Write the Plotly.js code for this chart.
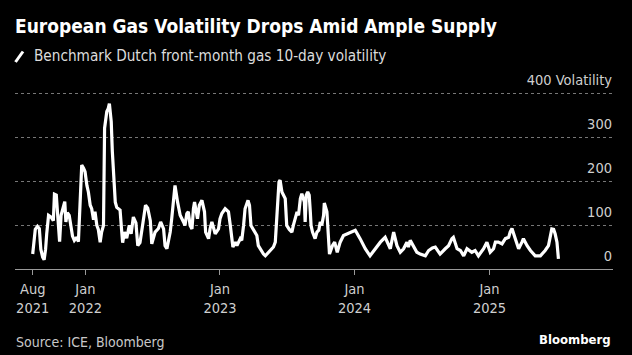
<!DOCTYPE html>
<html><head><meta charset="utf-8">
<script src="https://cdn.plot.ly/plotly-3.0.1.min.js"></script>
<style>html,body{margin:0;padding:0;background:#000;} #chart{width:632px;height:355px;}</style>
</head><body><div id="chart"></div>
<script>
const dates = [
"2021-08-11","2021-08-18","2021-08-24","2021-08-29","2021-09-02","2021-09-07","2021-09-11","2021-09-15","2021-09-18","2021-09-23",
"2021-09-30","2021-10-06","2021-10-09","2021-10-14","2021-10-18","2021-10-23","2021-10-27","2021-11-01","2021-11-06","2021-11-09",
"2021-11-13","2021-11-18","2021-11-22","2021-11-27","2021-12-02","2021-12-09","2021-12-13","2021-12-18","2021-12-22","2021-12-27",
"2021-12-31","2022-01-05","2022-01-09","2022-01-14","2022-01-18","2022-01-23","2022-01-27","2022-02-01","2022-02-05","2022-02-10",
"2022-02-14","2022-02-19","2022-02-22","2022-02-28","2022-03-04","2022-03-07","2022-03-12","2022-03-15","2022-03-19","2022-03-23",
"2022-03-27","2022-04-01","2022-04-05","2022-04-09","2022-04-12","2022-04-17","2022-04-23","2022-04-30","2022-05-05","2022-05-11",
"2022-05-18","2022-05-23","2022-05-29","2022-06-05","2022-06-13","2022-06-19","2022-06-26","2022-06-30","2022-07-09","2022-07-18",
"2022-07-24","2022-08-01","2022-08-05","2022-08-10","2022-08-14","2022-08-19","2022-08-23","2022-08-28","2022-09-01","2022-09-08",
"2022-09-15","2022-09-24","2022-09-28","2022-10-03","2022-10-07","2022-10-12","2022-10-17","2022-10-21","2022-10-24","2022-11-01",
"2022-11-06","2022-11-13","2022-11-20","2022-11-23","2022-12-01","2022-12-05","2022-12-10","2022-12-19","2022-12-28","2023-01-01",
"2023-01-06","2023-01-15","2023-01-24","2023-01-29","2023-02-02","2023-02-05","2023-02-12","2023-02-16","2023-02-25","2023-03-01",
"2023-03-06","2023-03-10","2023-03-18","2023-03-22","2023-03-26","2023-04-06","2023-04-11","2023-04-15","2023-04-20","2023-04-29",
"2023-05-04","2023-05-13","2023-05-26","2023-05-31","2023-06-04","2023-06-06","2023-06-10","2023-06-13","2023-06-18","2023-06-27",
"2023-07-01","2023-07-08","2023-07-15","2023-07-19","2023-07-24","2023-07-29","2023-08-02","2023-08-07","2023-08-11","2023-08-18",
"2023-08-20","2023-08-23","2023-08-27","2023-08-31","2023-09-03","2023-09-05","2023-09-09","2023-09-16","2023-09-21","2023-09-26",
"2023-09-30","2023-10-04","2023-10-09","2023-10-11","2023-10-18","2023-10-22","2023-10-25","2023-11-02","2023-11-08","2023-11-15",
"2023-11-23","2023-12-02","2023-12-12","2023-12-20","2024-01-03","2024-01-16","2024-01-30","2024-02-12","2024-02-26","2024-03-11",
"2024-03-24","2024-04-02","2024-04-07","2024-04-16","2024-04-25","2024-05-04","2024-05-13","2024-05-22","2024-05-26","2024-05-31",
"2024-06-09","2024-06-18","2024-06-27","2024-07-11","2024-07-20","2024-07-30","2024-08-07","2024-08-20","2024-09-03","2024-09-12",
"2024-09-21","2024-09-25","2024-10-05","2024-10-14","2024-10-23","2024-11-01","2024-11-14","2024-11-23","2024-12-02","2024-12-16",
"2024-12-25","2025-01-03","2025-01-12","2025-01-17","2025-01-25","2025-02-04","2025-02-13","2025-02-22","2025-02-26","2025-03-03",
"2025-03-12","2025-03-21","2025-03-30","2025-04-03","2025-04-13","2025-04-22","2025-05-05","2025-05-19","2025-06-01","2025-06-10",
"2025-06-19","2025-06-24","2025-06-28","2025-07-03","2025-07-07"
];
const volatility = [
34,90,97,92,45,27,21,45,80,122,
118,110,170,168,120,62,122,140,153,107,
128,122,99,75,65,72,62,150,236,229,
221,190,175,145,137,112,130,99,90,61,
84,99,320,358,365,376,335,267,198,152,
140,137,134,90,60,84,70,99,80,118,
105,53,60,99,145,138,110,57,84,92,
107,91,53,46,61,84,114,168,190,152,
122,107,99,126,130,99,91,137,152,114,
145,156,130,84,69,91,107,80,91,114,
126,137,130,99,76,50,61,53,69,65,
99,137,156,145,99,84,76,53,46,34,
30,38,50,61,114,168,198,202,175,160,
99,90,84,99,114,130,122,160,171,152,
107,168,175,168,130,99,84,69,84,88,
107,99,122,150,130,84,34,53,61,38,
61,76,80,84,88,69,46,30,46,61,
72,53,46,84,53,38,46,61,50,65,
53,38,34,30,42,48,50,34,46,53,
69,72,46,42,30,46,38,42,30,46,
61,38,46,61,61,57,69,72,84,92,
69,46,61,69,53,42,30,30,42,53,
91,90,80,61,23
];
const tickDates = ["2021-08-11","2022-01-01","2023-01-01","2024-01-01","2025-01-01"];
const tickLabels = ["Aug<br>2021","Jan<br>2022","Jan<br>2023","Jan<br>2024","Jan<br>2025"];
const yTicks = [0,100,200,300,400];
const yTickLabels = ["0","100","200","300","400 Volatility"];

const FONT = "'DejaVu Sans Condensed', 'DejaVu Sans', sans-serif";
const W = 632, H = 355, ML = 15, MR = 19, MT = 71, MB = 86;
const PW = W - ML - MR, PH = H - MT - MB;
const px = x => (x - ML) / PW;
const py = y => (H - MB - y) / PH;

const trace = {
  x: dates, y: volatility, type: 'scatter', mode: 'lines',
  line: {color: '#ffffff', width: 3.2}, hoverinfo: 'skip'
};

const layout = {
  width: W, height: H,
  paper_bgcolor: '#000', plot_bgcolor: '#000',
  margin: {l: ML, r: MR, t: MT, b: MB, pad: 0},
  showlegend: false,
  font: {family: FONT, color: '#d0d0d0'},
  title: {
    text: 'European Gas Volatility Drops Amid Ample Supply',
    font: {family: FONT, size: 19, color: '#ffffff', weight: 700},
    xref: 'container', yref: 'container', x: 15 / W, xanchor: 'left',
    y: 1 - 26 / H, yanchor: 'middle'
  },
  xaxis: {
    type: 'date', range: ['2021-06-24', '2025-12-02'],
    tickmode: 'array', tickvals: tickDates, ticktext: tickLabels,
    ticks: 'outside', ticklen: 5, tickwidth: 1, tickcolor: '#9a9a9a',
    ticklabelstandoff: 2,
    showline: true, linecolor: '#9a9a9a', linewidth: 1,
    showgrid: false, zeroline: false,
    tickfont: {family: FONT, size: 14.5, color: '#cfcfcf'}
  },
  yaxis: {
    range: [0, 450], side: 'right',
    tickmode: 'array', tickvals: yTicks, ticktext: yTickLabels,
    ticklabelposition: 'inside', ticks: '', ticklabelshift: -13, ticklabelstandoff: -2,
    showgrid: true, gridcolor: '#777777', griddash: 'dot', gridwidth: 1,
    zeroline: false, showline: false,
    tickfont: {family: FONT, size: 14.5, color: '#cfcfcf'}
  },
  shapes: [{
    type: 'line', xref: 'paper', yref: 'paper',
    x0: px(15.5), y0: py(62), x1: px(23), y1: py(51.5),
    line: {color: '#ffffff', width: 3}
  }],
  annotations: [
    {xref: 'paper', yref: 'paper', x: px(33), y: py(56), xanchor: 'left', yanchor: 'middle',
     text: 'Benchmark Dutch front-month gas 10-day volatility', showarrow: false, borderpad: 0,
     font: {family: FONT, size: 15.2, color: '#dcdcdc'}},
    {xref: 'paper', yref: 'paper', x: px(15), y: py(342), xanchor: 'left', yanchor: 'middle',
     text: 'Source: ICE, Bloomberg', showarrow: false, borderpad: 0,
     font: {family: FONT, size: 14, color: '#c8c8c8'}},
    {xref: 'paper', yref: 'paper', x: px(612), y: py(339), xanchor: 'right', yanchor: 'middle',
     text: 'Bloomberg', showarrow: false, borderpad: 0,
     font: {family: FONT, size: 13, color: '#ffffff', weight: 700}}
  ]
};

Plotly.newPlot('chart', [trace], layout, {displayModeBar: false, staticPlot: true});
</script>
</body></html>
